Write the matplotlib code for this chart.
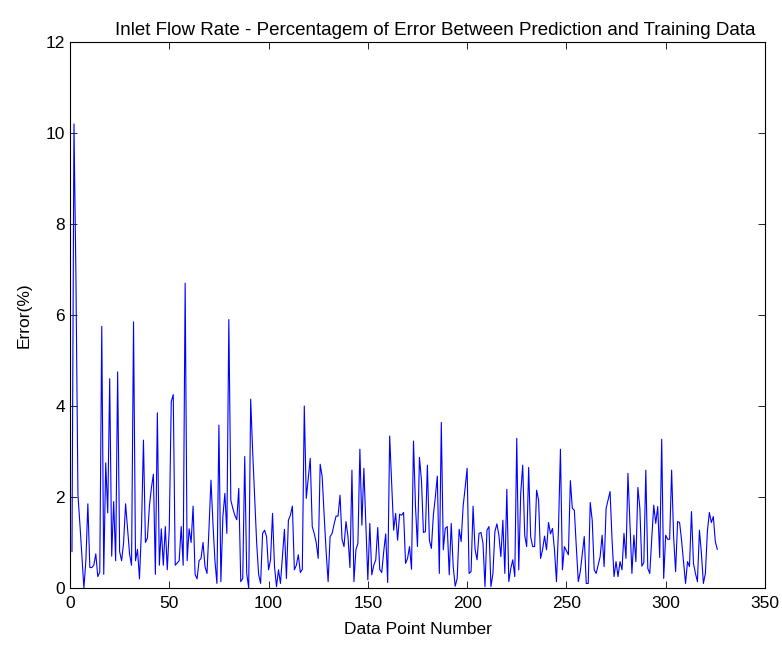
import matplotlib
import numpy as np

matplotlib.use('Agg')
import matplotlib.pyplot as plt

# error (%) per data point
err_pct = [
    0.8, 10.2, 6.8, 2.05, 1.4, 0.7, 0.0, 0.6, 1.85, 0.45,
    0.45, 0.5, 0.75, 0.25, 0.35, 5.75, 0.3, 2.75, 1.65, 4.6,
    0.7, 1.9, 0.6, 4.75, 0.8, 0.6, 1.0, 1.85, 1.3, 0.75,
    0.5, 5.85, 0.6, 0.85, 0.2, 1.3, 3.25, 1.0, 1.1, 1.8,
    2.2, 2.5, 0.3, 3.85, 0.5, 1.3, 0.5, 1.35, 0.4, 1.3,
    4.1, 4.25, 0.5, 0.55, 0.6, 1.35, 0.5, 6.7, 0.6, 1.3,
    1.0, 1.8, 0.3, 0.2, 0.6, 0.65, 1.0, 0.47, 0.32, 1.3,
    2.37, 1.42, 0.6, 0.1, 3.58, 0.14, 1.57, 2.08, 1.2, 5.9,
    1.93, 1.75, 1.6, 1.5, 2.19, 0.14, 0.21, 2.89, 0.32, 0.0,
    4.15, 3.0, 2.0, 1.0, 0.3, 0.1, 1.2, 1.27, 1.13, 0.4,
    0.62, 1.64, 0.47, 0.03, 0.4, 0.1, 0.7, 1.29, 0.21, 1.49,
    1.6, 1.8, 0.4, 0.5, 0.73, 0.34, 0.41, 4.0, 1.97, 2.4,
    2.85, 1.35, 1.2, 1.0, 0.65, 2.72, 2.45, 1.6, 0.8, 0.14,
    1.13, 1.2, 1.4, 1.58, 1.58, 2.04, 1.07, 0.91, 1.46, 1.13,
    0.45, 2.59, 0.14, 0.84, 0.98, 3.05, 1.38, 2.63, 1.4, 0.18,
    1.42, 0.29, 0.5, 0.62, 1.33, 0.41, 0.34, 0.8, 1.19, 0.12,
    3.34, 2.3, 1.27, 1.64, 1.05, 1.62, 1.6, 1.66, 0.54, 0.65,
    0.91, 0.41, 3.23, 1.8, 0.91, 2.87, 2.37, 1.22, 1.24, 2.7,
    1.05, 0.87, 1.6, 2.0, 2.46, 0.32, 3.64, 0.84, 1.31, 1.35,
    0.29, 1.42, 0.47, 0.04, 0.21, 1.29, 1.02, 1.8, 2.2, 2.63,
    0.32, 0.36, 1.8, 0.85, 0.62, 1.2, 1.22, 0.98, 0.03, 1.27,
    1.35, 0.03, 0.32, 1.24, 1.41, 1.16, 0.69, 1.49, 0.32, 2.17,
    0.14, 0.43, 0.62, 0.25, 3.29, 0.4, 2.08, 2.7, 1.16, 0.91,
    2.65, 1.13, 0.91, 0.91, 2.15, 1.93, 0.65, 0.84, 1.14, 0.84,
    1.44, 1.19, 1.31, 0.84, 0.14, 1.27, 3.05, 0.4, 0.91, 0.82,
    0.73, 2.36, 1.75, 1.71, 0.9, 0.14, 0.36, 0.75, 1.13, 0.1,
    0.1, 1.88, 1.49, 0.4, 0.32, 0.5, 0.69, 1.16, 0.47, 1.75,
    1.93, 2.12, 1.05, 0.25, 0.58, 0.25, 0.58, 0.4, 1.2, 0.65,
    2.52, 1.4, 0.32, 1.16, 0.58, 2.21, 1.75, 0.48, 0.56, 2.59,
    0.43, 0.32, 1.1, 1.82, 1.42, 1.79, 0.67, 3.27, 0.21, 1.16,
    1.07, 1.07, 2.59, 1.13, 0.36, 1.46, 1.44, 1.05, 0.58, 0.1,
    0.58, 0.47, 1.68, 0.54, 0.32, 0.14, 1.27, 0.76, 0.1, 0.32,
    1.24, 1.66, 1.44, 1.57, 1.02, 0.85,
]
point_no = np.arange(1, len(err_pct) + 1)

x_ticks = [0, 50, 100, 150, 200, 250, 300, 350]
y_ticks = [0, 2, 4, 6, 8, 10, 12]

plt.rcParams['font.family'] = ['Liberation Sans', 'DejaVu Sans']
plt.rcParams['font.size'] = 12.5

fig = plt.figure(figsize=(7.82, 6.48), dpi=100)
ax = fig.add_axes([0.0895, 0.0926, 0.8887, 0.8426])
ax.plot(point_no, err_pct, '-', color='#0000ff', linewidth=0.8)

ax.set_xlim(0, 350)
ax.set_ylim(0, 12)
ax.set_xticks(x_ticks)
ax.set_yticks(y_ticks)
ax.tick_params(direction='in', top=True, right=True, length=5, width=0.6,
               labelsize=12.5)
ax.tick_params(axis='x', pad=6)
for sp in ax.spines.values():
    sp.set_linewidth(0.8)

ax.set_xlabel('Data Point Number', labelpad=8)
ax.set_ylabel('Error(%)', labelpad=10)
ax.set_title('Inlet Flow Rate - Percentagem of Error Between Prediction and Training Data',
             fontsize=13.5, pad=5, x=0.525)

fig.savefig('out.png', dpi=100)
